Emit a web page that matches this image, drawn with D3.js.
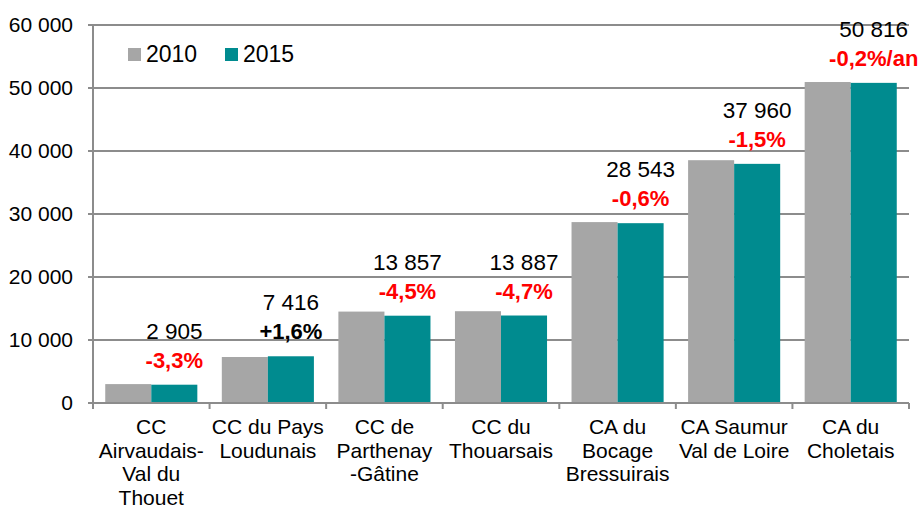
<!DOCTYPE html>
<html>
<head>
<meta charset="utf-8">
<script src="https://cdn.jsdelivr.net/npm/d3@7"></script>
<style>
  html, body { margin: 0; padding: 0; background: #fff; }
  svg { display: block; font-family: "Liberation Sans", Arial, Helvetica, sans-serif; }
</style>
</head>
<body>
<svg id="chart" width="923" height="509"></svg>
<script>
// Intercommunalités : population 2010 et 2015
const categories = [
  ["CC", "Airvaudais-", "Val du", "Thouet"],
  ["CC du Pays", "Loudunais"],
  ["CC de", "Parthenay", "-Gâtine"],
  ["CC du", "Thouarsais"],
  ["CA du", "Bocage", "Bressuirais"],
  ["CA Saumur", "Val de Loire"],
  ["CA du", "Choletais"]
];
const pop2010 = [3000, 7300, 14510, 14570, 28715, 38540, 50950];
const pop2015 = [2905, 7416, 13857, 13887, 28543, 37960, 50816];
const evolution = ["-3,3%", "+1,6%", "-4,5%", "-4,7%", "-0,6%", "-1,5%", "-0,2%/an"];
const seriesNames = ["2010", "2015"];
const yTicks = [0, 10000, 20000, 30000, 40000, 50000, 60000];

const colors = { "2010": "#A6A6A6", "2015": "#008B8F" };
const gridColor = "#8C8C8C";

const svg = d3.select("#chart");
const margin = { left: 93, right: 14, top: 25, bottom: 106 };
const W = 923, H = 509;
const x0 = margin.left, x1 = W - margin.right;
const yTop = margin.top, yBot = H - margin.bottom;

const fr = d3.formatLocale({ decimal: ",", thousands: "\u00a0", grouping: [3], currency: ["", "€"] });
const fmt = fr.format(",d");

const x = d3.scaleBand().domain(d3.range(categories.length)).range([x0, x1])
  .paddingInner(0.21).paddingOuter(0.105);
const xs = d3.scaleBand().domain(seriesNames).range([0, x.bandwidth()]);
const y = d3.scaleLinear().domain([0, 60000]).range([yBot, yTop]);

// Horizontal gridlines with outward ticks
svg.append("g").selectAll("line").data(yTicks.filter(d => d > 0)).join("line")
  .attr("x1", x0 - 5).attr("x2", x1)
  .attr("y1", d => y(d)).attr("y2", d => y(d))
  .attr("stroke", gridColor).attr("stroke-width", 2);

// Y tick labels
svg.append("g").selectAll("text").data(yTicks).join("text")
  .attr("x", x0 - 20).attr("y", d => y(d)).attr("dy", "0.35em")
  .attr("text-anchor", "end").attr("font-size", 21).attr("fill", "#000")
  .text(d => fmt(d));

// Bars
const series = [pop2010, pop2015];
seriesNames.forEach((name, si) => {
  svg.append("g").selectAll("rect").data(series[si]).join("rect")
    .attr("x", (d, i) => x(i) + xs(name))
    .attr("width", xs.bandwidth())
    .attr("y", d => y(d))
    .attr("height", d => y(0) - y(d))
    .attr("fill", colors[name]);
});

// Axes lines
svg.append("line").attr("x1", x0).attr("x2", x0).attr("y1", yTop).attr("y2", yBot)
  .attr("stroke", gridColor).attr("stroke-width", 2);
svg.append("line").attr("x1", x0 - 5).attr("x2", x1).attr("y1", yBot).attr("y2", yBot)
  .attr("stroke", gridColor).attr("stroke-width", 2);

// Category separators below the axis
const step = x.step();
svg.append("g").selectAll("line").data(d3.range(categories.length + 1)).join("line")
  .attr("x1", i => x0 + i * step).attr("x2", i => x0 + i * step)
  .attr("y1", yBot).attr("y2", yBot + 6)
  .attr("stroke", gridColor).attr("stroke-width", 2);

// Category labels
const catG = svg.append("g");
categories.forEach((lines, i) => {
  const t = catG.append("text")
    .attr("x", x(i) + x.bandwidth() / 2)
    .attr("y", yBot + 31)
    .attr("text-anchor", "middle").attr("font-size", 21).attr("fill", "#000");
  lines.forEach((ln, k) => {
    t.append("tspan").attr("x", x(i) + x.bandwidth() / 2).attr("dy", k === 0 ? 0 : 23.5).text(ln);
  });
});

// Value and evolution labels above the 2015 bar
const lab = svg.append("g");
pop2015.forEach((v, i) => {
  const cx = x(i) + xs("2015") + xs.bandwidth() / 2;
  lab.append("text").attr("x", cx).attr("y", y(v) - 46)
    .attr("text-anchor", "middle").attr("font-size", 22.5).attr("fill", "#000")
    .text(fmt(v));
  lab.append("text").attr("x", cx).attr("y", y(v) - 17)
    .attr("text-anchor", "middle").attr("font-size", 22).attr("font-weight", "bold")
    .attr("fill", evolution[i].startsWith("+") ? "#000" : "#FF0000")
    .text(evolution[i]);
});

// Legend
const legend = svg.append("g");
const legendX = [128, 225];
seriesNames.forEach((name, k) => {
  legend.append("rect").attr("x", legendX[k]).attr("y", 48).attr("width", 13).attr("height", 13)
    .attr("fill", colors[name]);
  legend.append("text").attr("x", legendX[k] + 18).attr("y", 62)
    .attr("font-size", 23).attr("fill", "#000").text(name);
});
</script>
</body>
</html>
